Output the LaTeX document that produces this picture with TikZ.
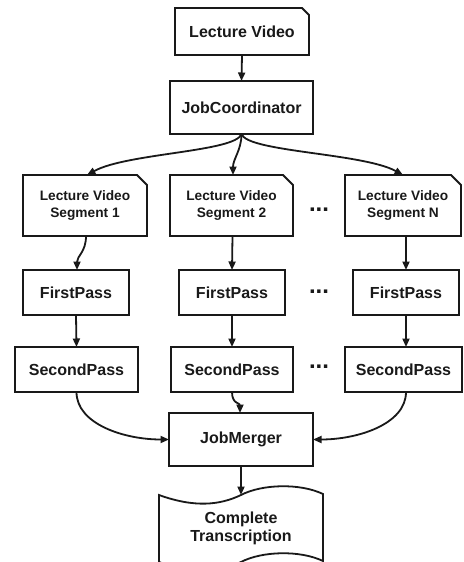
\documentclass[tikz,border=0pt]{standalone}
\usepackage{fontspec}
\setmainfont{Liberation Sans}
\usetikzlibrary{arrows.meta}
\tikzset{
  ln/.style={line width=1.5pt, draw=black!90},
  pln/.style={line width=1.8pt, draw=black!90},
  arr/.style={pln, -{Triangle[length=8.5pt,width=7pt]}},
  boxbase/.style={inner sep=0pt, outer sep=0pt, align=center, text=black!90, font=\bfseries\fontsize{16}{18}\selectfont},
  box/.style={boxbase, draw, ln},
  docbox/.style={boxbase},
  segtext/.style={font=\bfseries\fontsize{13.7}{16.7}\selectfont},
  dotsnode/.style={inner sep=0pt, font=\bfseries\fontsize{24}{24}\selectfont, text=black!90}
}
\newcommand{\docoutline}[2]{% node name, corner cut
  \draw[pln, line join=miter] (#1.south west) -- (#1.north west) -- ([xshift=-#2]#1.north east) -- ([yshift=-#2]#1.north east) -- (#1.south east) -- cycle;}
\begin{document}
\begin{tikzpicture}[x=1pt,y=-1pt]
\clip (0,0) rectangle (463,562);
\fill[white] (0,0) rectangle (463,562);
% nodes
\node[docbox, minimum width=134pt, minimum height=47pt] (lv) at (242,31.5) {Lecture Video};
\docoutline{lv}{7pt}
\node[box, minimum width=143pt, minimum height=53pt] (jc) at (241.5,107.5) {JobCoordinator};

\node[docbox, segtext, minimum width=124pt, minimum height=61pt] (s1) at (85,205.5) {Lecture Video\\Segment 1};
\docoutline{s1}{10pt}
\node[docbox, segtext, minimum width=123pt, minimum height=61pt] (s2) at (231.5,205.5) {Lecture Video\\Segment 2};
\docoutline{s2}{10pt}
\node[docbox, segtext, minimum width=116pt, minimum height=61pt] (sn) at (403,205.5) {Lecture Video\\Segment N};
\docoutline{sn}{10pt}

\node[box, minimum width=106pt, minimum height=45pt] (f1) at (76,292.5) {FirstPass};
\node[box, minimum width=106pt, minimum height=45pt] (f2) at (232,292.5) {FirstPass};
\node[box, minimum width=106pt, minimum height=45pt] (fn) at (406,292.5) {FirstPass};

\node[box, minimum width=123pt, minimum height=45pt] (p1) at (76.5,369.5) {SecondPass};
\node[box, minimum width=122pt, minimum height=45pt] (p2) at (232,369.5) {SecondPass};
\node[box, minimum width=117pt, minimum height=45pt] (pn) at (403.5,369.5) {SecondPass};

\node[box, minimum width=144pt, minimum height=53pt] (jm) at (241,439.5) {JobMerger};

\node[dotsnode] (d1) at (319,210) {...};
\node[dotsnode] (d2) at (319,292) {...};
\node[dotsnode] (d3) at (319,367) {...};

% tape shape
\coordinate (ctop) at (241,495);
\draw[pln] (159,495) .. controls (195,508) and (220,505) .. (ctop)
  .. controls (262,484) and (300,483) .. (323,494)
  -- (323,561) .. controls (300,550) and (262,551) .. (241,562)
  .. controls (220,572) and (195,575) .. (159,562) -- cycle;
\node[boxbase, align=center] (ct) at (241,528) {Complete\\Transcription};

% connectors
\draw[arr] (lv.south) -- (jc.north);
\draw[arr] (jc.south) .. controls +(-6,18) and +(40,-22) .. ([xshift=2pt]s1.north);
\draw[arr] (jc.south) .. controls +(0,16) and +(0,-16) .. ([xshift=1.5pt]s2.north);
\draw[arr] (jc.south) .. controls +(6,18) and +(-40,-22) .. (sn.north);
\draw[arr] ([xshift=1pt]s1.south) .. controls +(0,16) and +(0,-14) .. ([xshift=1pt]f1.north);
\draw[arr] ([xshift=1pt]s2.south) -- (f2.north);
\draw[arr] ([xshift=3pt]sn.south) -- (fn.north);
\draw[arr] (f1.south) -- (p1.north);
\draw[arr] (f2.south) -- (p2.north);
\draw[arr] (fn.south) -- ([xshift=2.5pt]pn.north);
\draw[arr] (p1.south) .. controls +(0,32) and +(-45,0) .. (jm.west);
\draw[arr] (p2.south) .. controls +(0,12) and +(0,-10) .. ([xshift=-1pt]jm.north);
\draw[arr] ([xshift=2.5pt]pn.south) .. controls +(0,32) and +(45,0) .. (jm.east);
\draw[arr] (jm.south) -- (ctop);
\end{tikzpicture}
\end{document}
